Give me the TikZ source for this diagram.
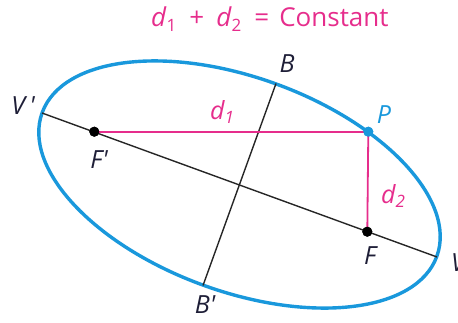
\documentclass[tikz,border=0pt]{standalone}
\usepackage{fontspec}
\setmainfont{Open Sans}
\definecolor{ellblue}{RGB}{25,152,220}
\definecolor{mag}{RGB}{230,45,140}
\definecolor{ink}{RGB}{30,30,55}
\newcommand{\dsub}[1]{\textit{d}\raisebox{-0.35ex}{\fontsize{17}{17}\selectfont #1}}
\newcommand{\pr}{\textquotesingle}
\begin{document}
\begin{tikzpicture}[x=1pt,y=-1pt,
  lbl/.style={text=ink,font=\fontsize{25}{25}\selectfont\itshape,inner sep=0pt},
  axis/.style={draw=black!85,line width=1.4pt},
  dist/.style={draw=mag,line width=1.8pt},
  dot/.style={circle,fill=black,inner sep=0pt,minimum size=10pt}]
\useasboundingbox (0,0) rectangle (458,323);
\coordinate (O) at (239.5,184.5);
\draw[ellblue,line width=3.4pt,rotate around={-20:(O)}] (O) ellipse (210 and 107);
\coordinate (Vp) at (42,113);
\coordinate (V) at (437,257);
\coordinate (B) at (276,83.5);
\coordinate (Bp) at (203,285.5);
\draw[axis] (Vp) -- (V);
\draw[axis] (B) -- (Bp);
\node[dot] (Fp) at (94.3,131.7) {};
\node[dot] (F) at (367.3,231.7) {};
\node[circle,fill=ellblue,inner sep=0pt,minimum size=10pt] (P) at (368.3,131.7) {};
\draw[dist] (Fp.center) -- (P.center);
\draw[dist] (P.center) -- (F.center);
\node[dot] at (Fp) {};
\node[dot] at (F) {};
\node[circle,fill=ellblue,inner sep=0pt,minimum size=10pt] at (P) {};
\node[lbl] (lVp) at (23,106) {V\,\pr};
\node[lbl] (lFp) at (99,160) {F\pr};
\node[lbl,text=ellblue] (lP) at (384,115) {P};
\node[lbl] (lF) at (370,256) {F};
\node[lbl,anchor=west] (lV) at (451,263) {V};
\node[lbl] (lB) at (287,64) {B};
\node[lbl] (lBp) at (205,305) {B\pr};
\node[lbl,text=mag] (ld1) at (222,112) {\dsub{1}};
\node[lbl,text=mag] (ld2) at (393,196) {\dsub{2}};
\node[text=mag,font=\fontsize{26}{26}\selectfont,inner sep=0pt,anchor=base west] (title) at (151,27) {\dsub{1}\hspace{13pt}+\hspace{12pt}\dsub{2}\hspace{13pt}=\hspace{10pt}Constant};
\end{tikzpicture}
\end{document}
